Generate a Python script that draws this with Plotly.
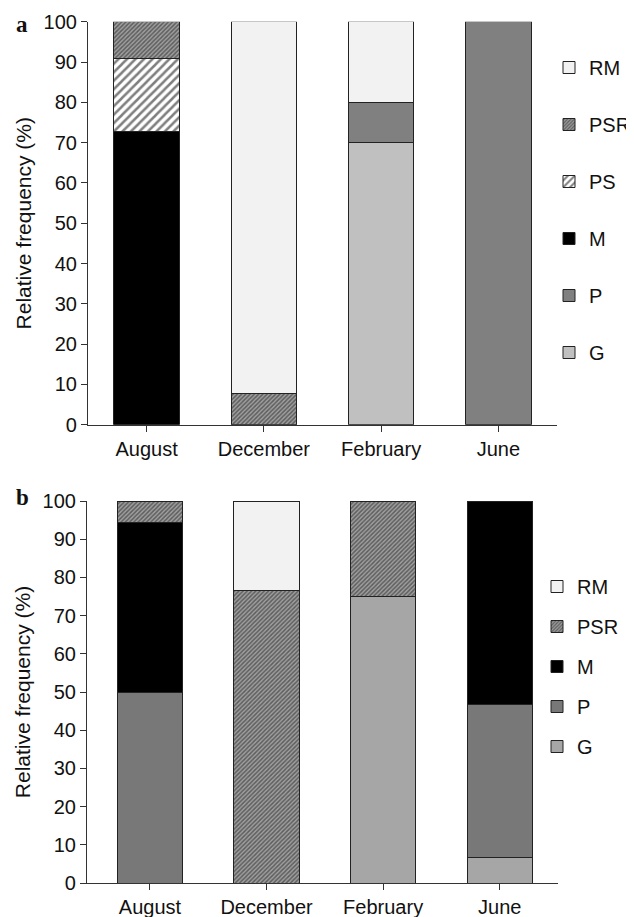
import plotly.graph_objects as go

months = ["August", "December", "February", "June"]

# Panel a (values in %)
a_G = [None, None, 70, None]
a_P = [None, None, 10, 100]
a_M = [72.7, None, None, None]
a_PS = [18.2, None, None, None]
a_PSR = [9.1, 7.7, None, None]
a_RM = [None, 92.3, 20, None]

# Panel b (values in %)
b_G = [None, None, 75, 6.7]
b_P = [50, None, None, 40]
b_M = [44.4, None, None, 53.3]
b_PSR = [5.6, 76.5, 25, None]
b_RM = [None, 23.5, None, None]

legend_rank = {"RM": 1, "PSR": 2, "PS": 3, "M": 4, "P": 5, "G": 6}

# page body has an 8px margin; coordinates below are window pixels
OFF = 8
W, H = 634, 917
FONT = "Liberation Sans, Arial, sans-serif"
EDGE = dict(color="#222222", width=1)
BW = 0.56

def px(x):
    return (x - OFF) / W

def py(y):
    return (H - (y - OFF)) / H

fig = go.Figure()

def add(name, vals, xa, ya, leg, color=None, pattern=None):
    marker = dict(line=EDGE)
    if color is not None:
        marker["color"] = color
    if pattern is not None:
        marker["pattern"] = pattern
        marker["color"] = pattern.get("bgcolor", "white")
    fig.add_trace(go.Bar(
        x=months, y=vals, name=name, xaxis=xa, yaxis=ya, width=BW,
        marker=marker, legend=leg, legendgroup=leg + name,
        legendrank=legend_rank[name], showlegend=True,
    ))

psr_pat = dict(shape="/", fgcolor="#1a1a1a", bgcolor="#a0a0a0", size=3, solidity=0.5)
ps_pat = dict(shape="/", fgcolor="#000000", bgcolor="#ffffff", size=6, solidity=0.42)

# panel a traces (bottom to top)
add("G", a_G, "x", "y", "legend", color="#c0c0c0")
add("P", a_P, "x", "y", "legend", color="#808080")
add("M", a_M, "x", "y", "legend", color="#000000")
add("PS", a_PS, "x", "y", "legend", pattern=ps_pat)
add("PSR", a_PSR, "x", "y", "legend", pattern=psr_pat)
add("RM", a_RM, "x", "y", "legend", color="#f2f2f2")

# panel b traces
add("G", b_G, "x2", "y2", "legend2", color="#a6a6a6")
add("P", b_P, "x2", "y2", "legend2", color="#787878")
add("M", b_M, "x2", "y2", "legend2", color="#000000")
add("PSR", b_PSR, "x2", "y2", "legend2", pattern=psr_pat)
add("RM", b_RM, "x2", "y2", "legend2", color="#f2f2f2")

axis_common = dict(
    showline=True, linecolor="#333333", linewidth=1.2,
    ticks="outside", ticklen=6, tickcolor="#333333", tickwidth=1.2,
    showgrid=False, zeroline=False, automargin=False,
    tickfont=dict(family=FONT, size=20, color="#111111"),
)

ytitle = dict(text="Relative frequency (%)",
              font=dict(family=FONT, size=21, color="#111111"), standoff=6)

SERIF = "Liberation Serif, Times New Roman, serif"

fig.update_layout(
    width=W, height=H,
    margin=dict(l=0, r=0, t=0, b=0, autoexpand=False),
    paper_bgcolor="white", plot_bgcolor="white",
    barmode="stack",
    showlegend=True,
    xaxis=dict(domain=[px(88), px(557)], range=[-0.5, 3.5], anchor="y", **axis_common),
    yaxis=dict(domain=[py(424.7), py(21.7)], range=[0, 100], dtick=10, anchor="x",
               title=ytitle, **axis_common),
    xaxis2=dict(domain=[px(87), px(558)], range=[-0.54, 3.5], anchor="y2", **axis_common),
    yaxis2=dict(domain=[py(883), py(501)], range=[0, 100], dtick=10, anchor="x2",
                title=ytitle, **axis_common),
    legend=dict(x=px(549), y=py(48), xanchor="left", yanchor="top",
                traceorder="grouped", tracegroupgap=28,
                font=dict(family=FONT, size=20, color="#111111"),
                bgcolor="rgba(0,0,0,0)", itemwidth=30),
    legend2=dict(x=px(537), y=py(567), xanchor="left", yanchor="top",
                 traceorder="grouped", tracegroupgap=11,
                 font=dict(family=FONT, size=20, color="#111111"),
                 bgcolor="rgba(0,0,0,0)", itemwidth=30),
    annotations=[
        dict(text="<b>a</b>", x=px(14), y=py(25), xref="paper", yref="paper",
             xanchor="left", yanchor="middle", showarrow=False,
             font=dict(family=SERIF, size=23, color="#111111")),
        dict(text="<b>b</b>", x=px(14), y=py(497), xref="paper", yref="paper",
             xanchor="left", yanchor="middle", showarrow=False,
             font=dict(family=SERIF, size=23, color="#111111")),
    ],
)

fig.write_html("out.html")
